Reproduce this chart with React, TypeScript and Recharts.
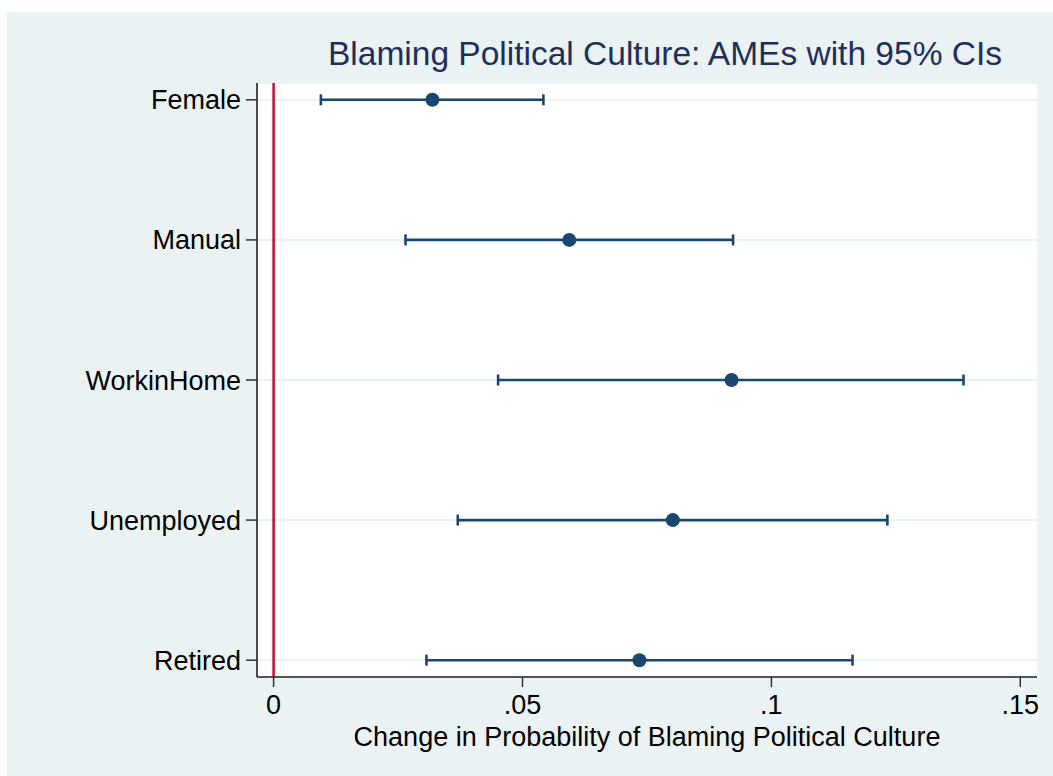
import React from 'react';
import { ScatterChart, Scatter, XAxis, YAxis, CartesianGrid, ErrorBar, ReferenceLine } from 'recharts';

const categories = ['Female', 'Manual', 'WorkinHome', 'Unemployed', 'Retired'];
const ame = [0.0319, 0.0594, 0.0920, 0.0802, 0.0735];
const ciLow = [0.0095, 0.0265, 0.0451, 0.0370, 0.0307];
const ciHigh = [0.0542, 0.0923, 0.1386, 0.1233, 0.1163];
const xTicks = [0, 0.05, 0.1, 0.15];
const xTickLabels = ['0', '.05', '.1', '.15'];

const NAVY = '#1a476f';
const FONT = '"Liberation Sans", Arial, Helvetica, sans-serif';

const data = categories.map((name, i) => ({
  name,
  x: ame[i],
  y: categories.length - i,
  err: [ame[i] - ciLow[i], ciHigh[i] - ame[i]],
}));

const yTicks = categories.map((_, i) => categories.length - i);

const Dot = (props: any) => {
  const { cx, cy } = props;
  if (cx == null || cy == null) return null;
  return <circle cx={cx} cy={cy} r={7} fill={NAVY} />;
};

export default function App() {
  return (
    <div style={{ position: 'absolute', left: 0, top: 0, width: 1053, height: 776, background: '#ffffff', fontFamily: FONT }}>
      <div style={{ position: 'absolute', left: 7, top: 12, width: 1046, height: 764, background: '#eaf2f3' }} />
      <svg style={{ position: 'absolute', left: 0, top: 0 }} width={1053} height={776}>
        <text x={328} y={65} fontSize={33.5} fill="#1f2f5a" fontFamily={FONT}>
          Blaming Political Culture: AMEs with 95% CIs
        </text>
      </svg>
      <div style={{ position: 'absolute', left: 0, top: 0 }}>
        <ScatterChart width={1053} height={776} margin={{ top: 83, right: 16, bottom: 0, left: 0 }}>
          <CartesianGrid vertical={false} fill="#ffffff" stroke="#eaf2f3" strokeWidth={2} />
          <XAxis
            type="number"
            dataKey="x"
            domain={[-0.003335, 0.15336]}
            allowDataOverflow
            ticks={xTicks}
            tickFormatter={(v: number) => xTickLabels[xTicks.indexOf(v)] ?? String(v)}
            height={99}
            tickSize={10}
            tickMargin={8}
            axisLine={{ stroke: '#222', strokeWidth: 1.5 }}
            tickLine={{ stroke: '#333', strokeWidth: 1.5 }}
            tick={{ fill: '#000', fontSize: 27, fontFamily: FONT }}
            label={{ value: 'Change in Probability of Blaming Political Culture', position: 'insideBottom', offset: 30, fill: '#000', fontSize: 27, fontFamily: FONT }}
          />
          <YAxis
            type="number"
            dataKey="y"
            domain={[0.88, 5.12]}
            allowDataOverflow
            ticks={yTicks}
            interval={0}
            tickFormatter={(v: number) => categories[categories.length - v] ?? ''}
            width={257}
            tickSize={11}
            tickMargin={5}
            axisLine={{ stroke: '#111', strokeWidth: 1.5 }}
            tickLine={{ stroke: '#333', strokeWidth: 1.5 }}
            tick={{ fill: '#000', fontSize: 27, fontFamily: FONT }}
          />
          <ReferenceLine x={0} stroke="#cc0a33" strokeWidth={2.5} />
          <Scatter data={data} shape={<Dot />} isAnimationActive={false}>
            <ErrorBar dataKey="err" direction="x" width={5.5} stroke={NAVY} strokeWidth={2.6} />
          </Scatter>
        </ScatterChart>
      </div>
    </div>
  );
}
